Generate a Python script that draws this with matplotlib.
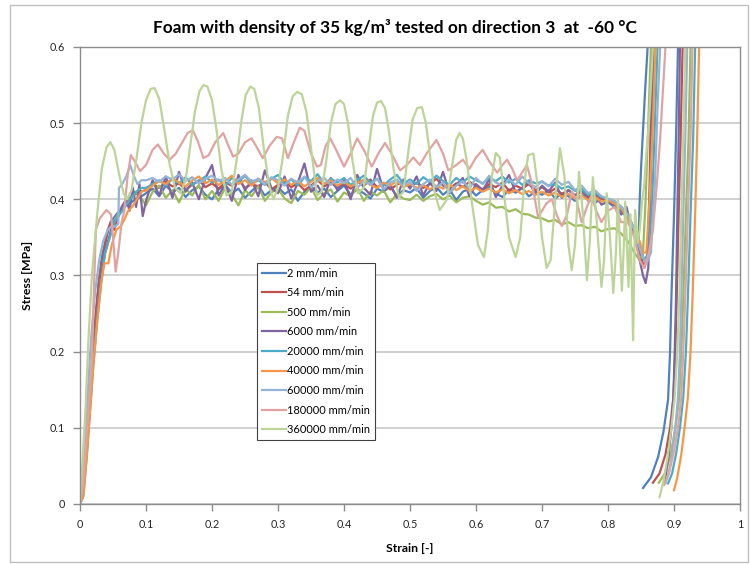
import matplotlib
matplotlib.use("Agg")
import matplotlib.pyplot as plt
from matplotlib.patches import Rectangle
from matplotlib.ticker import FuncFormatter, MultipleLocator

# ============================================================================
# DATA
# ============================================================================

LABELS = ["2 mm/min", "54 mm/min", "500 mm/min", "6000 mm/min", "20000 mm/min",
          "40000 mm/min", "60000 mm/min", "180000 mm/min", "360000 mm/min"]
COLORS = ["#4F81BD", "#C0504D", "#9BBB59", "#8064A2", "#4BACC6",
          "#F79646", "#95B3D7", "#E0A3A1", "#BCD497"]

# shared sampling of the plateau region
PLATEAU_STRAIN = [0.10, 0.11, 0.12, 0.13, 0.14, 0.15, 0.16, 0.17, 0.18, 0.19,
                  0.20, 0.21, 0.22, 0.23, 0.24, 0.25, 0.26, 0.27, 0.28, 0.29,
                  0.30, 0.31, 0.32, 0.33, 0.34, 0.35, 0.36, 0.37, 0.38, 0.39,
                  0.40, 0.41, 0.42, 0.43, 0.44, 0.45, 0.46, 0.47, 0.48, 0.49,
                  0.50, 0.51, 0.52, 0.53, 0.54, 0.55, 0.56, 0.57, 0.58, 0.59,
                  0.60, 0.61, 0.62, 0.63, 0.64, 0.65, 0.66, 0.67, 0.68, 0.69,
                  0.70, 0.71, 0.72, 0.73, 0.74, 0.75, 0.76, 0.77, 0.78, 0.79,
                  0.80]

# --- 2 mm/min
S2_RISE_X = [0.0, 0.004, 0.008, 0.012, 0.017, 0.022, 0.028, 0.034, 0.040, 0.046, 0.055, 0.065, 0.075, 0.085, 0.095]
S2_RISE_Y = [0.0, 0.010, 0.050, 0.110, 0.170, 0.230, 0.290, 0.330, 0.350, 0.370, 0.380, 0.390, 0.395, 0.400, 0.405]
S2_PLATEAU = [0.408, 0.414, 0.404, 0.418, 0.409, 0.415, 0.403, 0.412, 0.417, 0.406,
              0.400, 0.413, 0.419, 0.408, 0.414, 0.402, 0.411, 0.418, 0.405, 0.412,
              0.416, 0.407, 0.413, 0.398, 0.410, 0.417, 0.409, 0.414, 0.403, 0.411,
              0.418, 0.406, 0.413, 0.408, 0.401, 0.414, 0.410, 0.417, 0.404, 0.412,
              0.409, 0.415, 0.402, 0.411, 0.416, 0.406, 0.413, 0.399, 0.410, 0.414,
              0.405, 0.412, 0.417, 0.408, 0.403, 0.413, 0.409, 0.415, 0.404, 0.410,
              0.406, 0.412, 0.401, 0.408, 0.404, 0.398, 0.406, 0.400, 0.395, 0.402,
              0.396]
S2_END_X = [0.81, 0.82, 0.83, 0.838, 0.843, 0.846, 0.848, 0.850, 0.853, 0.856, 0.860, 0.862,
            0.908, 0.906, 0.903, 0.900, 0.896, 0.894, 0.891, 0.884, 0.876, 0.865, 0.853]
S2_END_Y = [0.390, 0.385, 0.375, 0.360, 0.340, 0.330, 0.400, 0.440, 0.490, 0.540, 0.600, 0.650,
            0.650, 0.600, 0.480, 0.380, 0.270, 0.200, 0.137, 0.095, 0.062, 0.035, 0.021]

# --- 54 mm/min
S54_RISE_X = [0.0, 0.004, 0.009, 0.014, 0.019, 0.024, 0.030, 0.036, 0.042, 0.047, 0.052, 0.058, 0.065, 0.072, 0.080, 0.090]
S54_RISE_Y = [0.0, 0.020, 0.070, 0.130, 0.190, 0.250, 0.300, 0.330, 0.360, 0.370, 0.360, 0.380, 0.390, 0.400, 0.405, 0.410]
S54_PLATEAU = [0.412, 0.420, 0.415, 0.423, 0.417, 0.421, 0.413, 0.419, 0.425, 0.416,
               0.421, 0.414, 0.422, 0.418, 0.426, 0.415, 0.420, 0.417, 0.423, 0.413,
               0.419, 0.424, 0.416, 0.421, 0.412, 0.418, 0.425, 0.417, 0.422, 0.415,
               0.420, 0.414, 0.423, 0.418, 0.426, 0.416, 0.421, 0.413, 0.419, 0.424,
               0.417, 0.422, 0.415, 0.420, 0.427, 0.418, 0.414, 0.421, 0.416, 0.423,
               0.418, 0.413, 0.420, 0.416, 0.422, 0.411, 0.418, 0.414, 0.420, 0.412,
               0.416, 0.409, 0.414, 0.407, 0.412, 0.405, 0.410, 0.403, 0.408, 0.401,
               0.398]
S54_END_X = [0.81, 0.82, 0.83, 0.84, 0.848, 0.855, 0.860, 0.863, 0.865, 0.867, 0.869,
             0.915, 0.913, 0.910, 0.907, 0.904, 0.902, 0.899, 0.894, 0.887, 0.878, 0.868]
S54_END_Y = [0.395, 0.390, 0.380, 0.360, 0.330, 0.310, 0.330, 0.420, 0.520, 0.600, 0.650,
             0.650, 0.600, 0.480, 0.380, 0.270, 0.200, 0.140, 0.100, 0.065, 0.040, 0.028]

# --- 500 mm/min
S500_RISE_X = [0.0, 0.005, 0.010, 0.015, 0.020, 0.026, 0.032, 0.038, 0.045, 0.052, 0.060, 0.068, 0.075, 0.082, 0.090]
S500_RISE_Y = [0.0, 0.020, 0.070, 0.130, 0.190, 0.250, 0.300, 0.330, 0.350, 0.370, 0.385, 0.390, 0.400, 0.410, 0.405]
S500_PLATEAU = [0.392, 0.410, 0.418, 0.402, 0.412, 0.396, 0.414, 0.405, 0.419, 0.400,
                0.411, 0.398, 0.415, 0.406, 0.392, 0.412, 0.404, 0.417, 0.398, 0.409,
                0.414, 0.401, 0.395, 0.411, 0.406, 0.416, 0.399, 0.408, 0.413, 0.397,
                0.409, 0.404, 0.415, 0.398, 0.410, 0.405, 0.412, 0.396, 0.407, 0.401,
                0.399, 0.406, 0.398, 0.404, 0.407, 0.400, 0.405, 0.396, 0.402, 0.404,
                0.398, 0.393, 0.396, 0.389, 0.390, 0.384, 0.387, 0.381, 0.380, 0.376,
                0.375, 0.371, 0.373, 0.367, 0.370, 0.365, 0.366, 0.362, 0.364, 0.358,
                0.361]
S500_END_X = [0.81, 0.82, 0.83, 0.84, 0.848, 0.853, 0.857, 0.861, 0.865, 0.867,
              0.927, 0.925, 0.922, 0.918, 0.914, 0.911, 0.908, 0.902, 0.895, 0.886, 0.877]
S500_END_Y = [0.362, 0.355, 0.345, 0.330, 0.320, 0.330, 0.400, 0.500, 0.600, 0.650,
              0.650, 0.600, 0.480, 0.380, 0.270, 0.200, 0.140, 0.100, 0.065, 0.040, 0.028]

# --- 6000 mm/min
S6000_RISE_X = [0.0, 0.005, 0.010, 0.015, 0.020, 0.026, 0.032, 0.038, 0.044, 0.050, 0.057, 0.063, 0.070, 0.075, 0.080, 0.085, 0.090, 0.095]
S6000_RISE_Y = [0.0, 0.020, 0.070, 0.130, 0.190, 0.250, 0.300, 0.330, 0.350, 0.370, 0.375, 0.390, 0.400, 0.385, 0.415, 0.390, 0.420, 0.378]
S6000_PLATEAU = [0.398, 0.425, 0.405, 0.430, 0.402, 0.436, 0.410, 0.422, 0.400, 0.428,
                 0.445, 0.405, 0.420, 0.398, 0.432, 0.412, 0.425, 0.404, 0.438, 0.415,
                 0.408, 0.430, 0.401, 0.422, 0.447, 0.410, 0.418, 0.403, 0.428, 0.412,
                 0.425, 0.400, 0.432, 0.415, 0.406, 0.440, 0.412, 0.420, 0.402, 0.426,
                 0.414, 0.430, 0.405, 0.422, 0.411, 0.436, 0.408, 0.419, 0.428, 0.404,
                 0.420, 0.412, 0.426, 0.403, 0.418, 0.432, 0.409, 0.415, 0.424, 0.406,
                 0.418, 0.410, 0.422, 0.402, 0.412, 0.405, 0.414, 0.398, 0.407, 0.393,
                 0.397]
S6000_END_X = [0.81, 0.82, 0.828, 0.835, 0.842, 0.848, 0.853, 0.857, 0.861, 0.864, 0.867, 0.869, 0.871,
               0.911, 0.909, 0.907, 0.905, 0.903, 0.901, 0.899, 0.896, 0.892, 0.888, 0.884]
S6000_END_Y = [0.392, 0.380, 0.390, 0.365, 0.350, 0.320, 0.300, 0.290, 0.310, 0.400, 0.520, 0.600, 0.650,
               0.650, 0.600, 0.480, 0.380, 0.270, 0.200, 0.140, 0.100, 0.065, 0.040, 0.027]

# --- 20000 mm/min
S20000_RISE_X = [0.0, 0.005, 0.010, 0.015, 0.020, 0.026, 0.032, 0.038, 0.045, 0.052, 0.060, 0.068, 0.076, 0.085, 0.093]
S20000_RISE_Y = [0.0, 0.010, 0.060, 0.120, 0.180, 0.240, 0.290, 0.330, 0.350, 0.370, 0.380, 0.390, 0.400, 0.410, 0.415]
S20000_PLATEAU = [0.415, 0.420, 0.425, 0.418, 0.427, 0.421, 0.429, 0.419, 0.424, 0.430,
                  0.422, 0.426, 0.418, 0.428, 0.423, 0.431, 0.420, 0.425, 0.419, 0.427,
                  0.432, 0.421, 0.426, 0.418, 0.429, 0.424, 0.433, 0.420, 0.427, 0.422,
                  0.428, 0.419, 0.425, 0.431, 0.422, 0.427, 0.418, 0.426, 0.432, 0.421,
                  0.426, 0.420, 0.429, 0.423, 0.431, 0.424, 0.419, 0.428, 0.422, 0.430,
                  0.425, 0.421, 0.428, 0.424, 0.430, 0.422, 0.427, 0.419, 0.425, 0.421,
                  0.423, 0.418, 0.420, 0.414, 0.417, 0.411, 0.413, 0.406, 0.409, 0.403,
                  0.400]
S20000_END_X = [0.81, 0.82, 0.83, 0.84, 0.848, 0.855, 0.862, 0.867, 0.871, 0.875, 0.877,
                0.934, 0.932, 0.929, 0.925, 0.921, 0.918, 0.914, 0.909, 0.903, 0.897, 0.891]
S20000_END_Y = [0.397, 0.390, 0.380, 0.360, 0.340, 0.320, 0.330, 0.400, 0.500, 0.600, 0.650,
                0.650, 0.600, 0.480, 0.380, 0.270, 0.200, 0.140, 0.100, 0.065, 0.040, 0.027]

# --- 40000 mm/min
S40000_RISE_X = [0.0, 0.005, 0.010, 0.015, 0.020, 0.026, 0.032, 0.037, 0.043, 0.048, 0.055, 0.062, 0.067, 0.073, 0.079, 0.086, 0.093]
S40000_RISE_Y = [0.0, 0.010, 0.060, 0.120, 0.180, 0.240, 0.290, 0.316, 0.316, 0.340, 0.360, 0.365, 0.373, 0.385, 0.390, 0.400, 0.410]
S40000_PLATEAU = [0.412, 0.418, 0.424, 0.420, 0.428, 0.422, 0.417, 0.425, 0.430, 0.421,
                  0.426, 0.419, 0.424, 0.431, 0.420, 0.425, 0.418, 0.427, 0.422, 0.428,
                  0.421, 0.426, 0.419, 0.424, 0.417, 0.423, 0.428, 0.420, 0.425, 0.418,
                  0.423, 0.417, 0.421, 0.426, 0.419, 0.415, 0.422, 0.418, 0.424, 0.416,
                  0.420, 0.415, 0.419, 0.413, 0.418, 0.414, 0.420, 0.412, 0.417, 0.411,
                  0.415, 0.410, 0.414, 0.409, 0.413, 0.408, 0.412, 0.407, 0.411, 0.406,
                  0.410, 0.405, 0.409, 0.403, 0.407, 0.401, 0.405, 0.399, 0.403, 0.397,
                  0.399]
S40000_END_X = [0.81, 0.82, 0.83, 0.84, 0.848, 0.853, 0.858, 0.863, 0.868, 0.872, 0.874,
                0.940, 0.938, 0.935, 0.932, 0.928, 0.925, 0.921, 0.916, 0.911, 0.905, 0.900]
S40000_END_Y = [0.394, 0.388, 0.375, 0.360, 0.345, 0.330, 0.330, 0.400, 0.500, 0.600, 0.650,
                0.650, 0.600, 0.480, 0.380, 0.270, 0.200, 0.140, 0.100, 0.065, 0.035, 0.018]

# --- 60000 mm/min
S60000_RISE_X = [0.0, 0.003, 0.007, 0.012, 0.017, 0.023, 0.029, 0.035, 0.042, 0.048, 0.053, 0.058, 0.059, 0.064, 0.070, 0.076, 0.082, 0.087, 0.093]
S60000_RISE_Y = [0.0, 0.020, 0.070, 0.150, 0.220, 0.280, 0.320, 0.345, 0.360, 0.365, 0.364, 0.368, 0.415, 0.420, 0.430, 0.445, 0.430, 0.420, 0.425]
S60000_PLATEAU = [0.425, 0.428, 0.423, 0.430, 0.426, 0.433, 0.424, 0.429, 0.421, 0.427,
                  0.431, 0.424, 0.428, 0.419, 0.426, 0.432, 0.423, 0.427, 0.420, 0.429,
                  0.425, 0.418, 0.427, 0.422, 0.430, 0.416, 0.424, 0.428, 0.419, 0.426,
                  0.421, 0.428, 0.415, 0.424, 0.419, 0.427, 0.413, 0.422, 0.426, 0.417,
                  0.424, 0.411, 0.420, 0.426, 0.416, 0.422, 0.409, 0.418, 0.424, 0.414,
                  0.428, 0.420, 0.431, 0.422, 0.418, 0.426, 0.419, 0.430, 0.421, 0.416,
                  0.424, 0.417, 0.427, 0.419, 0.423, 0.412, 0.418, 0.408, 0.412, 0.404,
                  0.401]
S60000_END_X = [0.81, 0.82, 0.83, 0.84, 0.850, 0.858, 0.865, 0.871, 0.875, 0.879, 0.881,
                0.922, 0.920, 0.917, 0.914, 0.911, 0.909, 0.906, 0.902, 0.897, 0.892, 0.887]
S60000_END_Y = [0.398, 0.390, 0.380, 0.360, 0.330, 0.315, 0.330, 0.420, 0.520, 0.600, 0.650,
                0.650, 0.600, 0.480, 0.380, 0.270, 0.200, 0.140, 0.100, 0.065, 0.040, 0.027]

# --- 180000 mm/min
S180000_X = [0.0, 0.005, 0.010, 0.015, 0.018, 0.021, 0.024, 0.030, 0.040, 0.047, 0.050, 0.054, 0.058, 0.063,
             0.067, 0.072, 0.077, 0.083, 0.091, 0.100, 0.110, 0.118, 0.127, 0.136, 0.145, 0.155, 0.163,
             0.171, 0.179, 0.187, 0.195, 0.205, 0.217, 0.225, 0.232, 0.240, 0.250, 0.260, 0.268, 0.277,
             0.287, 0.298, 0.306, 0.315, 0.324, 0.333, 0.340, 0.350, 0.359, 0.365, 0.372, 0.379, 0.388,
             0.400, 0.410, 0.420, 0.430, 0.442, 0.452, 0.462, 0.472, 0.485, 0.495, 0.505, 0.515, 0.525,
             0.540, 0.550, 0.558, 0.570, 0.580, 0.590, 0.600, 0.610, 0.620, 0.632, 0.640, 0.647, 0.655,
             0.662, 0.670, 0.677, 0.685, 0.694, 0.700, 0.707, 0.715, 0.722, 0.730, 0.738, 0.745, 0.752,
             0.760, 0.768, 0.775, 0.782, 0.790, 0.800, 0.810, 0.820, 0.830, 0.840, 0.848, 0.855, 0.862,
             0.868, 0.874, 0.879, 0.883, 0.887, 0.890,
             0.930, 0.928, 0.925, 0.921, 0.917, 0.914, 0.911, 0.906, 0.899, 0.892, 0.885]
S180000_Y = [0.0, 0.030, 0.090, 0.150, 0.190, 0.280, 0.360, 0.375, 0.386, 0.380, 0.350, 0.305, 0.330, 0.370,
             0.385, 0.430, 0.458, 0.450, 0.437, 0.445, 0.465, 0.472, 0.460, 0.452, 0.460, 0.475, 0.487,
             0.491, 0.475, 0.454, 0.458, 0.475, 0.487, 0.470, 0.456, 0.460, 0.475, 0.480, 0.468, 0.454,
             0.470, 0.482, 0.480, 0.454, 0.475, 0.494, 0.490, 0.460, 0.443, 0.445, 0.470, 0.480, 0.465,
             0.443, 0.460, 0.480, 0.465, 0.443, 0.460, 0.474, 0.460, 0.438, 0.445, 0.455, 0.445, 0.460,
             0.478, 0.460, 0.438, 0.445, 0.452, 0.440, 0.455, 0.465, 0.450, 0.435, 0.445, 0.452, 0.440,
             0.425, 0.435, 0.445, 0.420, 0.377, 0.385, 0.395, 0.400, 0.380, 0.365, 0.380, 0.410, 0.400,
             0.370, 0.390, 0.405, 0.385, 0.370, 0.385, 0.390, 0.370, 0.370, 0.350, 0.320, 0.310, 0.330,
             0.360, 0.420, 0.480, 0.540, 0.600, 0.650,
             0.650, 0.600, 0.480, 0.380, 0.270, 0.200, 0.140, 0.100, 0.065, 0.040, 0.025]

# --- 360000 mm/min
S360000_X = [0.0, 0.002, 0.008, 0.013, 0.018, 0.026, 0.033, 0.040, 0.046, 0.052, 0.060, 0.066, 0.071,
             0.078, 0.085, 0.093, 0.100, 0.107, 0.113, 0.120, 0.128, 0.136, 0.144, 0.152, 0.160, 0.167,
             0.174, 0.181, 0.187, 0.193, 0.200, 0.207, 0.214, 0.222, 0.230, 0.237, 0.244, 0.251, 0.258,
             0.264, 0.271, 0.278, 0.286, 0.293, 0.300, 0.308, 0.315, 0.322, 0.329, 0.336, 0.343, 0.351,
             0.359, 0.366, 0.373, 0.380, 0.387, 0.394, 0.400, 0.406, 0.413, 0.421, 0.430, 0.437, 0.444,
             0.450, 0.456, 0.462, 0.468, 0.475, 0.483, 0.490, 0.497, 0.504, 0.511, 0.518, 0.524, 0.530,
             0.537, 0.545, 0.556, 0.563, 0.570, 0.575, 0.580, 0.586, 0.593, 0.603, 0.612, 0.618, 0.624,
             0.630, 0.636, 0.642, 0.650, 0.660, 0.667, 0.673, 0.679, 0.687, 0.693, 0.700, 0.707, 0.713,
             0.720, 0.727, 0.734, 0.740, 0.745, 0.750, 0.756, 0.762, 0.768, 0.772, 0.777, 0.783, 0.790,
             0.794, 0.798, 0.803, 0.808, 0.812, 0.815, 0.818, 0.821, 0.824, 0.826, 0.829, 0.831, 0.834,
             0.836, 0.838, 0.841, 0.845, 0.848, 0.852, 0.855, 0.858, 0.862, 0.865, 0.868, 0.870,
             0.919, 0.917, 0.914, 0.911, 0.908, 0.905, 0.901, 0.896, 0.890, 0.884, 0.878]
S360000_Y = [0.0, 0.030, 0.120, 0.220, 0.300, 0.380, 0.440, 0.468, 0.475, 0.465, 0.430, 0.408, 0.400,
             0.412, 0.450, 0.500, 0.530, 0.545, 0.546, 0.532, 0.490, 0.445, 0.415, 0.408, 0.425, 0.470,
             0.515, 0.542, 0.550, 0.548, 0.530, 0.490, 0.440, 0.405, 0.410, 0.450, 0.500, 0.537, 0.548,
             0.545, 0.520, 0.470, 0.420, 0.400, 0.415, 0.460, 0.510, 0.535, 0.541, 0.538, 0.515, 0.460,
             0.405, 0.410, 0.450, 0.500, 0.525, 0.530, 0.525, 0.500, 0.450, 0.408, 0.415, 0.465, 0.510,
             0.527, 0.529, 0.520, 0.490, 0.440, 0.403, 0.410, 0.460, 0.505, 0.520, 0.521, 0.500, 0.460,
             0.410, 0.386, 0.400, 0.440, 0.478, 0.487, 0.480, 0.450, 0.400, 0.340, 0.324, 0.360, 0.430,
             0.461, 0.455, 0.410, 0.350, 0.324, 0.350, 0.420, 0.458, 0.460, 0.420, 0.350, 0.310, 0.320,
             0.400, 0.467, 0.430, 0.340, 0.307, 0.340, 0.436, 0.380, 0.294, 0.340, 0.429, 0.370, 0.285,
             0.320, 0.408, 0.350, 0.277, 0.330, 0.400, 0.340, 0.280, 0.340, 0.397, 0.330, 0.285, 0.380,
             0.300, 0.215, 0.386, 0.343, 0.360, 0.400, 0.420, 0.460, 0.500, 0.550, 0.600, 0.650,
             0.650, 0.600, 0.480, 0.380, 0.270, 0.200, 0.140, 0.100, 0.060, 0.030, 0.009]

# ============================================================================
# BUILD SERIES
# ============================================================================

def build(rise_x, rise_y, plateau, end_x, end_y):
    xs = list(rise_x) + PLATEAU_STRAIN + list(end_x)
    ys = list(rise_y) + list(plateau) + list(end_y)
    return xs, ys


series = [
    build(S2_RISE_X, S2_RISE_Y, S2_PLATEAU, S2_END_X, S2_END_Y),
    build(S54_RISE_X, S54_RISE_Y, S54_PLATEAU, S54_END_X, S54_END_Y),
    build(S500_RISE_X, S500_RISE_Y, S500_PLATEAU, S500_END_X, S500_END_Y),
    build(S6000_RISE_X, S6000_RISE_Y, S6000_PLATEAU, S6000_END_X, S6000_END_Y),
    build(S20000_RISE_X, S20000_RISE_Y, S20000_PLATEAU, S20000_END_X, S20000_END_Y),
    build(S40000_RISE_X, S40000_RISE_Y, S40000_PLATEAU, S40000_END_X, S40000_END_Y),
    build(S60000_RISE_X, S60000_RISE_Y, S60000_PLATEAU, S60000_END_X, S60000_END_Y),
    (S180000_X, S180000_Y),
    (S360000_X, S360000_Y),
]

# ============================================================================
# PLOT
# ============================================================================

plt.rcParams['font.family'] = ['Lato', 'DejaVu Sans']

fig = plt.figure(figsize=(7.5, 5.64), dpi=100)
ax = fig.add_axes([0.1067, 0.1064, 0.88, 0.8103])

# chart area border
fig.patches.append(Rectangle((0.013, 0.003), 0.984, 0.988, transform=fig.transFigure,
                             fill=False, edgecolor="#BFBFBF", linewidth=1.0))

for (xs, ys), label, color in zip(series, LABELS, COLORS):
    ax.plot(xs, ys, color=color, linewidth=1.6, label=label, solid_joinstyle="round")

ax.set_xlim(0, 1)
ax.set_ylim(0, 0.6)
ax.xaxis.set_major_locator(MultipleLocator(0.1))
ax.yaxis.set_major_locator(MultipleLocator(0.1))
ax.xaxis.set_major_formatter(FuncFormatter(lambda v, p: f"{v:.1f}".rstrip("0").rstrip(".") if v else "0"))
ax.yaxis.set_major_formatter(FuncFormatter(lambda v, p: f"{v:.1f}".rstrip("0").rstrip(".") if v else "0"))

ax.grid(axis="y", color="#C4C4C4", linewidth=1.1)
ax.set_axisbelow(True)
for side in ["left", "bottom", "top", "right"]:
    ax.spines[side].set_color("#8C8C8C")
    ax.spines[side].set_linewidth(1.0)
ax.tick_params(direction="out", length=5, width=1, color="#8C8C8C",
               labelsize=7.8, labelcolor="#262626", pad=6)

ax.set_xlabel("Strain [-]", fontsize=8.8, fontweight="bold", labelpad=9)
ax.set_ylabel("Stress [MPa]", fontsize=8.8, fontweight="bold", labelpad=12)

fig.text(0.527, 0.952, "Foam with density of 35 kg/m³ tested on direction 3  at  -60 °C",
         ha="center", va="center", fontsize=12.4, fontweight="bold")

leg = ax.legend(loc="lower left", bbox_to_anchor=(0.268, 0.14), fontsize=7.9,
                frameon=True, fancybox=False, edgecolor="#404040", framealpha=1,
                handlelength=2.2, handletextpad=0.1, labelspacing=0.78,
                borderpad=0.45, borderaxespad=0)
leg.get_frame().set_linewidth(0.8)

fig.savefig("out.png", dpi=100)
